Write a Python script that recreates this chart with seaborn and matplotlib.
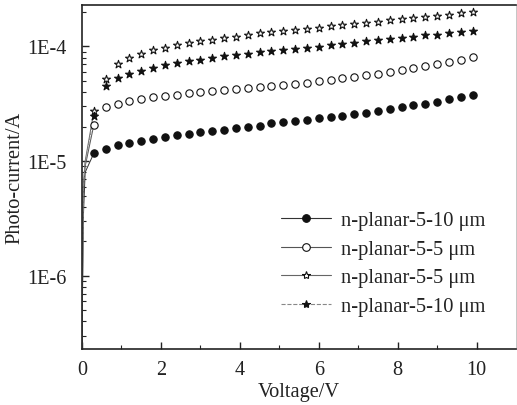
import matplotlib
matplotlib.use("Agg")
import matplotlib.pyplot as plt
from matplotlib.lines import Line2D
from matplotlib.ticker import FixedLocator, NullFormatter, LogLocator
import seaborn as sns
import pandas as pd

# ---------------- data ----------------
voltage = [0.3, 0.6, 0.9, 1.2, 1.5, 1.8, 2.1, 2.4, 2.7, 3.0, 3.3, 3.6, 3.9, 4.2,
           4.5, 4.8, 5.1, 5.4, 5.7, 6.0, 6.3, 6.6, 6.9, 7.2, 7.5, 7.8, 8.1, 8.4,
           8.7, 9.0, 9.3, 9.6, 9.9]

filled_circle_10um = [1.17e-5, 1.28e-5, 1.37e-5, 1.44e-5, 1.51e-5, 1.56e-5, 1.64e-5,
                      1.69e-5, 1.74e-5, 1.79e-5, 1.85e-5, 1.88e-5, 1.94e-5, 1.99e-5,
                      2.04e-5, 2.14e-5, 2.19e-5, 2.23e-5, 2.29e-5, 2.37e-5, 2.42e-5,
                      2.49e-5, 2.58e-5, 2.65e-5, 2.74e-5, 2.84e-5, 2.96e-5, 3.08e-5,
                      3.18e-5, 3.31e-5, 3.47e-5, 3.64e-5, 3.81e-5]

open_circle_5um = [2.07e-5, 2.96e-5, 3.14e-5, 3.34e-5, 3.49e-5, 3.59e-5, 3.69e-5,
                   3.81e-5, 3.92e-5, 4.00e-5, 4.08e-5, 4.19e-5, 4.27e-5, 4.36e-5,
                   4.42e-5, 4.54e-5, 4.66e-5, 4.75e-5, 4.85e-5, 4.99e-5, 5.12e-5,
                   5.30e-5, 5.44e-5, 5.62e-5, 5.78e-5, 6.01e-5, 6.26e-5, 6.48e-5,
                   6.74e-5, 7.02e-5, 7.31e-5, 7.65e-5, 8.02e-5]

open_star_5um = [2.71e-5, 5.23e-5, 7.06e-5, 7.92e-5, 8.59e-5, 9.23e-5, 9.75e-5,
                 1.02e-4, 1.07e-4, 1.11e-4, 1.15e-4, 1.18e-4, 1.22e-4, 1.26e-4,
                 1.31e-4, 1.34e-4, 1.36e-4, 1.40e-4, 1.43e-4, 1.46e-4, 1.50e-4,
                 1.54e-4, 1.57e-4, 1.61e-4, 1.64e-4, 1.69e-4, 1.72e-4, 1.77e-4,
                 1.81e-4, 1.85e-4, 1.89e-4, 1.94e-4, 2.00e-4]

filled_star_10um = [2.48e-5, 4.51e-5, 5.33e-5, 5.78e-5, 6.17e-5, 6.52e-5, 6.83e-5,
                    7.16e-5, 7.45e-5, 7.69e-5, 7.96e-5, 8.18e-5, 8.41e-5, 8.63e-5,
                    8.93e-5, 9.12e-5, 9.36e-5, 9.55e-5, 9.75e-5, 9.94e-5, 1.02e-4,
                    1.05e-4, 1.08e-4, 1.11e-4, 1.13e-4, 1.16e-4, 1.19e-4, 1.22e-4,
                    1.25e-4, 1.27e-4, 1.31e-4, 1.34e-4, 1.37e-4]

# low-voltage start-up points (lines only)
startup_voltage = [0.0, 0.03, 0.08, 0.3]
startup_filled_circle = [2.0e-7, 3.0e-6, 8.0e-6, 1.17e-5]
startup_open_circle = [2.0e-7, 5.0e-6, 9.0e-6, 2.07e-5]
startup_open_star = [2.0e-7, 6.0e-6, 1.0e-5, 2.71e-5]
startup_filled_star = [2.0e-7, 5.5e-6, 9.5e-6, 2.48e-5]

labels = ["n-planar-5-10 \u03bcm", "n-planar-5-5 \u03bcm",
          "n-planar-5-5 \u03bcm", "n-planar-5-10 \u03bcm"]
x_ticks = [0, 2, 4, 6, 8, 10]
y_ticks = [1e-6, 1e-5, 1e-4]
y_tick_labels = ["1E-6", "1E-5", "1E-4"]

# ---------------- style ----------------
sns.set_theme(style="ticks")
plt.rcParams["font.family"] = ["Liberation Serif", "DejaVu Serif"]

fig = plt.figure(figsize=(5.17, 4.06), dpi=100)
ax = fig.add_axes([82 / 517, 56 / 406, 434 / 517, 344 / 406])

series = [
    (filled_circle_10um, startup_filled_circle, "o", "#111111", 28, "-", "#333333"),
    (open_circle_5um, startup_open_circle, "o", "white", 28, "-", "#555555"),
    (open_star_5um, startup_open_star, "*", "white", 36, "-", "#666666"),
    (filled_star_10um, startup_filled_star, "*", "#111111", 36, "--", "#888888"),
]

handles = []
for (vals, start, mk, face, size, ls, lc), lab in zip(series, labels):
    sns.lineplot(x=startup_voltage, y=start, ax=ax, color=lc, lw=0.7,
                 linestyle=ls, estimator=None, sort=False)
    sns.scatterplot(x=voltage, y=vals, ax=ax, marker=mk, s=size,
                    facecolor=face, edgecolor="#111111", linewidth=0.8, zorder=3)
    handles.append(Line2D([0], [0], color=lc, lw=0.8, linestyle=ls, marker=mk,
                          markersize=6.0 if mk == "*" else 5.5,
                          markerfacecolor=face, markeredgecolor="#111111",
                          markeredgewidth=0.8))

ax.set_yscale("log")
ax.set_xlim(0, 11)
ax.set_ylim(2.3e-7, 2.3e-4)

ax.set_xticks(x_ticks)
ax.xaxis.set_minor_locator(FixedLocator([1, 3, 5, 7, 9]))
ax.set_yticks(y_ticks)
ax.set_yticklabels(y_tick_labels)
ax.yaxis.set_minor_locator(LogLocator(base=10, subs=range(2, 10)))
ax.yaxis.set_minor_formatter(NullFormatter())

ax.tick_params(axis="both", which="major", direction="in", length=5, width=1,
               labelsize=14.6, color="#222222", labelcolor="#222222")
ax.tick_params(axis="x", which="major", pad=8)
ax.tick_params(axis="y", which="major", pad=11)
ax.tick_params(axis="both", which="minor", direction="in", length=3, width=0.8,
               color="#222222")

for side in ["left", "bottom", "top"]:
    ax.spines[side].set_linewidth(1.2)
    ax.spines[side].set_color("#222222")
ax.spines["right"].set_linewidth(0.6)
ax.spines["right"].set_color("#bbbbbb")

ax.set_xlabel("Voltage/V", fontsize=14.7, color="#222222", labelpad=2)
ax.set_ylabel("Photo-current/A", fontsize=14.7, color="#222222", labelpad=2)

leg = ax.legend(handles, labels, loc="lower left", bbox_to_anchor=(0.44, 0.072),
                frameon=False, fontsize=14.8, handlelength=2.4, handletextpad=0.5,
                labelspacing=0.45, borderaxespad=0, labelcolor="#222222")

fig.savefig("out.png", dpi=100)
